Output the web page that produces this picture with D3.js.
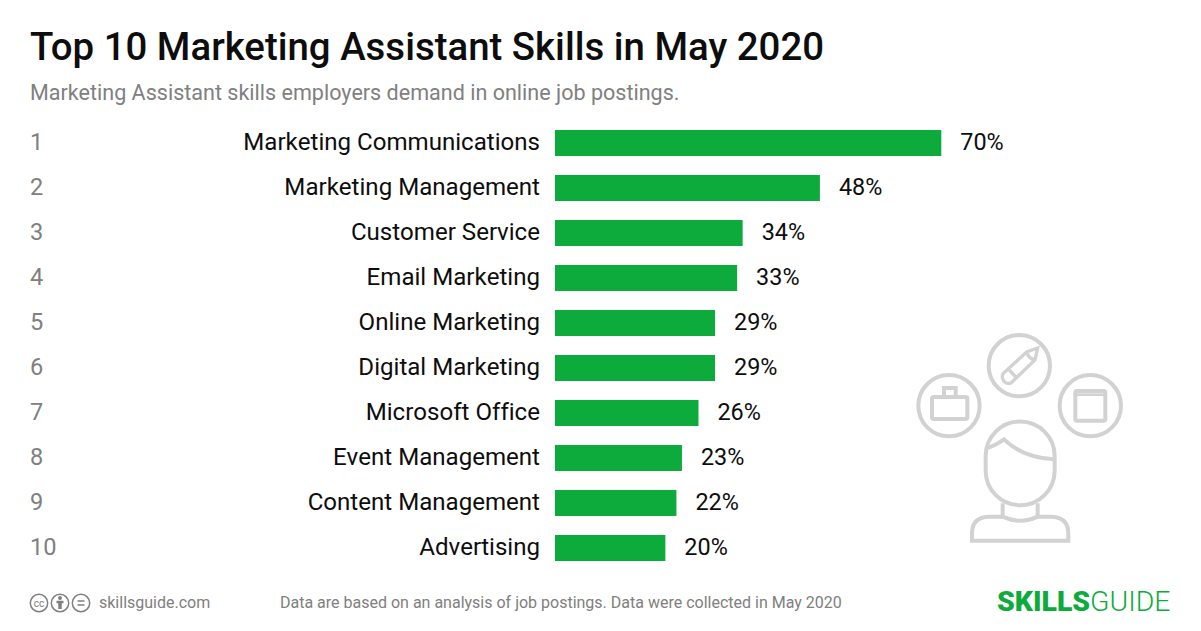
<!DOCTYPE html>
<html><head><meta charset="utf-8">
<style>html,body{margin:0;padding:0;background:#fff}svg{display:block}text{font-family:Roboto,sans-serif;font-variant-ligatures:none}.skill,.val{font-kerning:none}</style>
<script src="https://cdn.jsdelivr.net/npm/d3@7"></script></head>
<body><svg id="c" width="1201" height="631"></svg>
<script>
const ranks=[1,2,3,4,5,6,7,8,9,10];
const skills=["Marketing Communications","Marketing Management","Customer Service","Email Marketing","Online Marketing","Digital Marketing","Microsoft Office","Event Management","Content Management","Advertising"];
const shares=[70,48,34,33,29,29,26,23,22,20];
const titleText="Top 10 Marketing Assistant Skills in May 2020";
const subtitleText="Marketing Assistant skills employers demand in online job postings.";
const noteText="Data are based on an analysis of job postings. Data were collected in May 2020";

const svg=d3.select("#c");
const x=d3.scaleLinear().domain([0,70]).range([555,941.3]);
const y=d3.scaleBand().domain(skills).range([120.5,570.5]).paddingInner(19/45).paddingOuter(9.5/45);
const cy=d=>y(d)+y.bandwidth()/2;
const T=(xx,yy,s,size,fill,anchor,weight)=>svg.append("text").attr("x",xx).attr("y",yy).attr("font-size",size).attr("fill",fill).attr("text-anchor",anchor||"start").attr("font-weight",weight||400).text(s);

T(30,60,titleText,38.4,"#0d0d0d","start",500);
T(30,100,subtitleText,21.55,"#808080");

svg.selectAll("rect.bar").data(skills).join("rect").attr("class","bar")
 .attr("x",x(0)).attr("y",d=>y(d)).attr("height",y.bandwidth())
 .attr("width",(d,i)=>x(shares[i])-x(0)).attr("fill","#0cab3b");
svg.selectAll("text.rank").data(skills).join("text").attr("class","rank")
 .attr("x",30).attr("y",d=>cy(d)+7).attr("font-size",23.6).attr("fill","#808080").text((d,i)=>ranks[i]);
svg.selectAll("text.skill").data(skills).join("text").attr("class","skill")
 .attr("x",540).attr("y",d=>cy(d)+7).attr("font-size",24.08).attr("fill","#0d0d0d").attr("text-anchor","end").text(d=>d);
svg.selectAll("text.val").data(skills).join("text").attr("class","val")
 .attr("x",(d,i)=>x(shares[i])+19).attr("y",d=>cy(d)+7).attr("font-size",23.4).attr("fill","#0d0d0d").text((d,i)=>shares[i]+"%");

// illustration
const ic=svg.append("g").attr("transform","translate(900,320) scale(0.3333)").attr("fill","none").attr("stroke","#d2d2d2").attr("stroke-width",12);
[[358,137],[147,257],[571,257]].forEach(c=>ic.append("circle").attr("cx",c[0]).attr("cy",c[1]).attr("r",92));
ic.append("path").attr("d","M257 408 A103.5 103.5 0 0 1 464 408 V452 A103.5 103.5 0 0 1 257 452 Z");
ic.append("path").attr("d","M257 385 C280 380 295 370 312 358 C350 395 400 415 464 418");
ic.append("path").attr("d","M308 550 V590 Q360 615 413 590 V550");
ic.append("path").attr("d","M216 662 V640 Q216 592 265 590 H308 M413 590 H455 Q505 592 505 640 V662 M210 662 H511");
ic.append("rect").attr("x",96).attr("y",231).attr("width",106).attr("height",66).attr("rx",5);
ic.append("path").attr("d","M132 231 V204 H167 V231");
ic.append("rect").attr("x",526).attr("y",213).attr("width",90).attr("height",89).attr("rx",5);
ic.append("path").attr("d","M526 224 H616").attr("stroke-width",8);
ic.append("path").attr("d","M413 84 L405 120 L334 188 Q322 194 312 184 Q303 172 310 160 L380 96 Z M380 96 Q385 115 405 120 M326 148 L352 176").attr("stroke-width",10);

// footer
const f=svg.append("g").attr("fill","none").attr("stroke","#808080").attr("stroke-width",1.5);
[39,60,81].forEach(c=>f.append("circle").attr("cx",c).attr("cy",603).attr("r",8.7));
f.append("path").attr("d","M77.5 601 H84.5 M77.5 605 H84.5");
f.append("path").attr("d","M60 601 V609").attr("stroke-width",3.5);
f.append("path").attr("d","M56.5 602 H63.5").attr("stroke-width",2.5);
f.append("circle").attr("cx",60).attr("cy",598).attr("r",1.2).attr("fill","#808080");
T(39,606.5,"cc",10,"#808080","middle");
T(99,608,"skillsguide.com",16,"#808080");
T(280,608,noteText,16,"#808080");
const logo=T(997,611,"SKILLS",28.4,"#0cab3b","start",900);
logo.append("tspan").attr("font-weight",300).text("GUIDE");
</script></body></html>
